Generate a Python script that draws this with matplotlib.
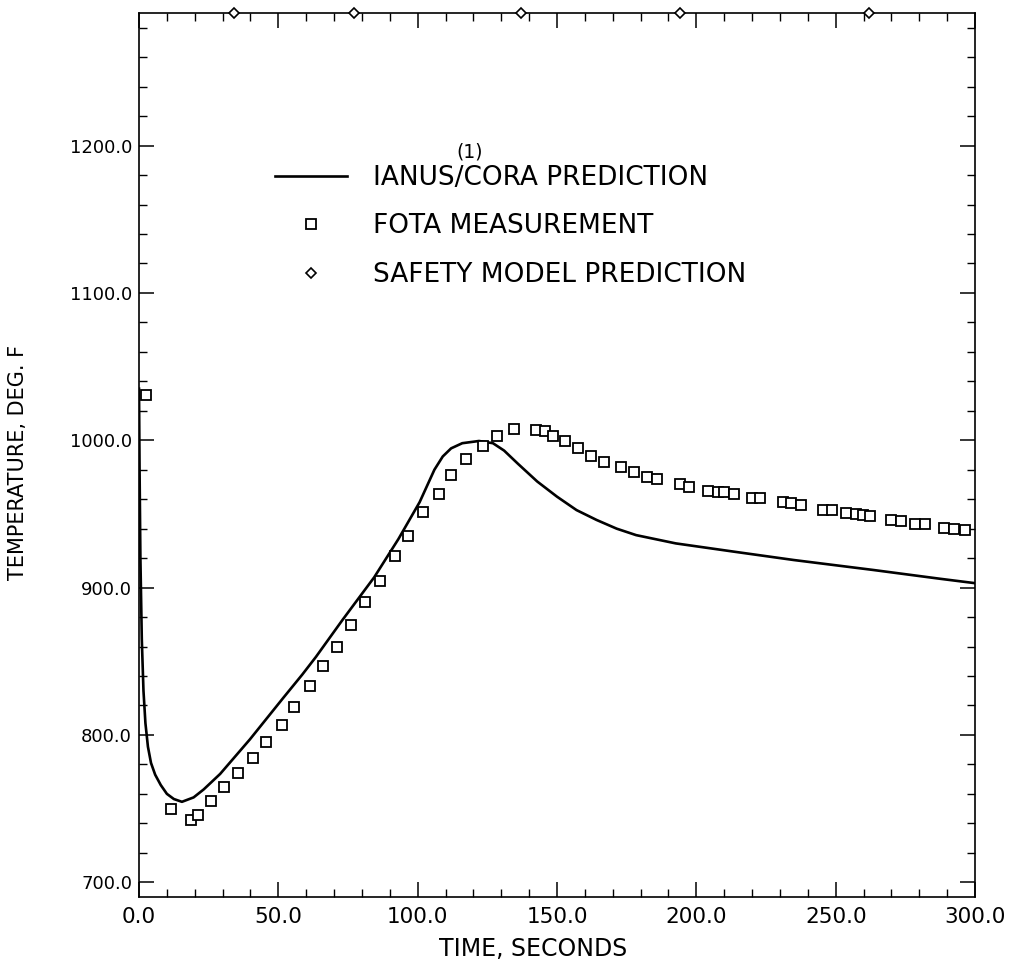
import matplotlib
matplotlib.use("Agg")
import matplotlib.pyplot as plt
from matplotlib.legend_handler import HandlerLine2D
from matplotlib.ticker import MultipleLocator, FormatStrFormatter

# IANUS/CORA prediction (solid line)
line_t = [0, 0.2, 0.5, 1.0, 1.6, 2.3, 3.2, 4.3, 5.8, 7.8, 10.0, 12.5, 15.4, 19.6,
          23.2, 29.1, 39.8, 51.7, 58.6, 63.5, 73.0, 84.4, 93.1, 100.7, 106.0,
          109.0, 112.0, 116.0, 122.0, 127.0, 131.0, 136.0, 142.9, 150.0, 157.0,
          164.2, 171.4, 178.4, 192.6, 213.8, 235.0, 263.3, 287.4, 300.0]
line_T = [1035, 980, 920, 865, 830, 808, 792, 781, 773, 766, 760, 756.5, 754.6, 757.6,
          763, 773.5, 797, 825, 841, 853, 878, 907, 933, 958, 980,
          989, 994.5, 998, 999.5, 998, 993, 984, 972, 961.7, 952.6,
          945.9, 940, 935.6, 930, 924.3, 918.7, 912, 906, 903]

# FOTA measurement (squares)
fota_t = [2.5, 11.6, 18.6, 21.0, 26.0, 30.6, 35.6, 40.8, 45.6, 51.4, 55.6, 61.3,
          66.0, 71.0, 75.9, 81.2, 86.5, 91.7, 96.7, 101.9, 107.6, 112.1, 117.4,
          123.3, 128.4, 134.5, 142.6, 145.6, 148.5, 152.8, 157.7, 162.3, 166.9,
          172.8, 177.8, 182.4, 186.0, 194.0, 197.5, 204.3, 207.6, 210.0, 213.5,
          219.9, 222.7, 231.1, 234.0, 237.5, 245.3, 248.8, 253.8, 257.3, 259.8,
          262.2, 270.0, 273.5, 278.5, 282.0, 289.0, 292.6, 296.5]
fota_T = [1031, 750, 742.5, 745.6, 755.3, 764.6, 774, 784.4, 795.5, 807, 819, 833.5,
          846.5, 860, 874.4, 890.3, 904.6, 921.2, 934.7, 951, 963.5, 976.4, 987,
          996, 1003, 1007.7, 1007, 1006, 1003, 999.5, 994.6, 989.6, 985.5,
          982.1, 978.2, 975.3, 973.7, 970.1, 968, 965.5, 965.1, 964.6, 963.3,
          961, 960.5, 957.8, 957.1, 956, 953, 952.4, 950.3, 949.7, 949.1,
          948.7, 945.8, 945.2, 943.1, 943.1, 940.7, 939.5, 939.1]

# safety model prediction (diamonds, off scale at the top)
safety_t = [34, 77, 137, 194, 262]
safety_T = [1290, 1290, 1290, 1290, 1290]


class RightMarker(HandlerLine2D):
    # put the marker near the right end of the handle, like the original key
    def get_xdata(self, legend, xdescent, ydescent, width, height, fontsize):
        return [-xdescent, -xdescent + width], [-xdescent + 0.92 * width]


plt.rcParams['font.family'] = ['DejaVu Sans']

fig = plt.figure(figsize=(10.32, 9.61), dpi=100)
ax = fig.add_axes([0.1347, 0.0666, 0.8101, 0.9199])

ln, = ax.plot(line_t, line_T, color='black', lw=1.9, label='IANUS/CORA PREDICTION')
sq, = ax.plot(fota_t, fota_T, ls='none', marker='s', ms=7.8, mfc='white', mec='black',
              mew=1.3, label='FOTA MEASUREMENT')
dm, = ax.plot(safety_t, safety_T, ls='none', marker='D', ms=5.5, mfc='white', mec='black',
              mew=1.2, clip_on=False, zorder=5, label='SAFETY MODEL PREDICTION')

ax.set_xlim(0, 300)
ax.set_ylim(690, 1290)
ax.xaxis.set_major_locator(MultipleLocator(50))
ax.xaxis.set_minor_locator(MultipleLocator(10))
ax.yaxis.set_major_locator(MultipleLocator(100))
ax.yaxis.set_minor_locator(MultipleLocator(20))
ax.xaxis.set_major_formatter(FormatStrFormatter('%.1f'))
ax.yaxis.set_major_formatter(FormatStrFormatter('%.1f'))
ax.tick_params(which='both', direction='in', top=True, right=True, color='black')
ax.tick_params(which='major', length=11, width=1.1)
ax.tick_params(which='minor', length=6, width=1.0)
ax.tick_params(axis='y', which='major', labelsize=13, pad=5)
ax.tick_params(axis='x', which='major', labelsize=15.5, pad=7)
for s in ax.spines.values():
    s.set_linewidth(1.2)

ax.set_xlabel('TIME, SECONDS', fontsize=17)
ax.xaxis.set_label_coords(0.472, -0.045)
ax.set_ylabel('TEMPERATURE, DEG. F', fontsize=15)
ax.yaxis.set_label_coords(-0.133, 0.492)

leg = ax.legend(handles=[ln, sq, dm], loc='upper left', bbox_to_anchor=(0.1474, 0.843),
                frameon=False, fontsize=19, borderpad=0, handlelength=2.7,
                handletextpad=1.0, labelspacing=0.85,
                handler_map={sq: RightMarker(), dm: RightMarker()})
ax.text(0.396, 0.843, '(1)', transform=ax.transAxes, fontsize=13.5, ha='center', va='center')

fig.savefig('out.png', dpi=100)
